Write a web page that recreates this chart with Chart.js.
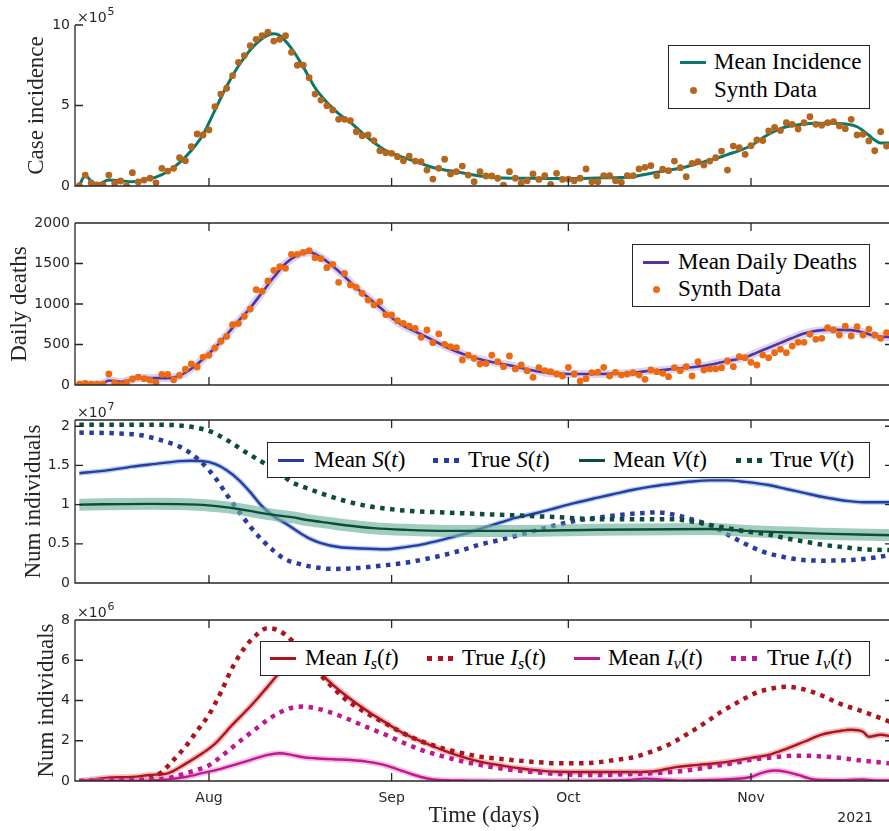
<!DOCTYPE html>
<html>
<head>
<meta charset="utf-8">
<script src="https://cdn.jsdelivr.net/npm/chart.js@4.4.1/dist/chart.umd.min.js"></script>
<style>
    body { margin: 0; background: #fff; }
    #wrap { position: relative; width: 889px; height: 831px; overflow: hidden; }
    #wrap canvas { position: absolute; left: 0; }
    .legend { position: absolute; background: #fff; border: 1px solid #262626; box-sizing: border-box; }
    .legend span.txt { position: absolute; font-family: "Liberation Serif", serif; font-size: 23px; line-height: 28px; color: #000; white-space: nowrap; }
    .legend div.sw { position: absolute; }
    sub { font-size: 16px; vertical-align: -4px; line-height: 0; }
</style>
</head>
<body>
<div id="wrap">
    <canvas id="chart1" width="900" height="200" style="top:0px"></canvas>
    <canvas id="chart2" width="900" height="200" style="top:200px"></canvas>
    <canvas id="chart3" width="900" height="200" style="top:400px"></canvas>
    <canvas id="chart4" width="900" height="231" style="top:600px"></canvas>
</div>
<script>
// days are counted from 1 Aug (Aug = 0, Sep = 31, Oct = 61, Nov = 92)
const monthTicks = [0, 31, 61, 92];
const monthLabels = ["Aug", "Sep", "Oct", "Nov"];
const X_MIN = -22.74;
const X_MAX = 116.1;

// one synthetic data point per day, from day -22 to day 115
const synthDays = Array.from({ length: 138 }, (_, i) => i - 22);

// panel 1: case incidence (x 1e5)
const incDays = [-22, -21, -20, -19, -17, -15, -13, -11, -9, -7, -5, -3, -1, 1, 3, 5, 7, 9, 11, 12, 14, 16, 18, 20,
    22, 24, 26, 28, 30, 32, 34, 36, 38, 40, 42, 44, 46, 48, 50, 54, 58, 62, 66, 70, 72, 74, 76, 78, 80, 82, 84,
    86, 88, 90, 92, 94, 96, 98, 100, 102, 104, 106, 108, 110, 112, 113, 114, 116];
const incMean = [0.05, 0.65, 0.3, 0.1, 0.37, 0.33, 0.27, 0.4, 0.55, 0.9, 1.45, 2.2, 3.2, 4.7, 6.2, 7.45, 8.45, 9.15, 9.45, 9.35, 8.55, 7.4, 6.1, 5.2,
    4.5, 3.95, 3.3, 2.7, 2.2, 1.9, 1.65, 1.4, 1.15, 1.0, 0.88, 0.75, 0.62, 0.55, 0.5, 0.48, 0.47, 0.47, 0.5, 0.53, 0.58, 0.72, 0.85, 0.98, 1.1, 1.3, 1.5,
    1.7, 1.95, 2.2, 2.5, 3.0, 3.4, 3.68, 3.8, 3.88, 3.9, 3.9, 3.85, 3.68, 3.15, 2.85, 2.67, 2.67];
const incSynth = [
    0.02, 0.68, 0.2, 0.07, 0.07, 0.68, 0.17, 0.31, 0.02, 0.83, 0.25, 0.37, 0.48, 0.2, 1.1, 0.93, 1.1, 1.76, 1.57, 2.44,
    3.23, 3.17, 3.48, 4.93, 5.71, 6.07, 6.85, 7.68, 8.1, 8.71, 9.11, 9.34, 9.55, 9.0, 9.11, 9.34, 8.3, 7.5,
    7.5, 6.73, 5.71, 5.34, 4.99, 4.72, 4.14, 4.14, 4.06, 3.37, 3.12, 3.17, 2.82, 2.19, 2.07, 2.03, 1.82, 1.57, 1.86, 1.55,
    1.51, 0.99, 0.43, 1.1, 1.66, 0.75, 0.89, 1.24, 0.68, 0.27, 0.89, 0.62, 0.62, 0.48, 0.06, 0.89, 0.48, 0.17, 0.33, 0.75,
    0.41, 0.64, 0.1, 0.79, 0.41, 0.43, 0.33, 0.48, 1.06, 0.27, 0.27, 0.64, 0.64,
    0.33, 0.23, 0.64, 0.64, 1.06, 1.16, 1.26, 0.64, 1.04, 0.95, 1.55, 1.14, 0.58, 1.41, 1.51, 1.3, 1.55, 1.76, 2.17, 0.99,
    2.48, 2.38, 1.97, 2.5, 2.86, 2.82, 3.42, 3.64, 3.44, 3.93, 3.83, 3.54, 3.93, 4.3, 3.83, 3.77, 3.93, 4.0, 3.73, 3.56,
    4.14, 3.17, 3.21, 2.8, 2.19, 3.37, 2.48];

// panel 2: daily deaths
const deathDays = [-22, -19, -18, -17, -16, -15, -13, -11, -9, -7, -5, -3, -1, 1, 3, 5, 7, 9, 11, 13, 15, 17, 19, 21,
    23, 25, 27, 29, 31, 33, 35, 37, 39, 41, 43, 45, 47, 49, 51, 53, 55, 57, 59, 61, 65, 69, 71, 73, 75, 77, 79,
    81, 83, 85, 87, 89, 91, 93, 95, 97, 99, 101, 103, 105, 107, 109, 111, 113, 116];
const deathMean = [5, 5, 20, 55, 50, 40, 70, 88, 85, 85, 115, 200, 320, 460, 620, 790, 950, 1140, 1330, 1500, 1600, 1640, 1575, 1470,
    1340, 1200, 1080, 960, 830, 730, 660, 590, 515, 445, 385, 335, 300, 270, 245, 210, 180, 155, 140, 135, 135, 140, 145, 160, 175, 185, 200,
    212, 228, 250, 280, 310, 340, 400, 460, 520, 580, 635, 668, 680, 680, 678, 650, 605, 590];
const deathSynth = [
    12, 20, 12, 12, 10, 136, 30, 5, 35, 74, 98, 78, 60, 28, 130, 130, 65, 120, 195, 260,
    222, 345, 366, 457, 540, 600, 745, 760, 847, 938, 1177, 1156, 1284, 1416,
    1460, 1440, 1613, 1613, 1638, 1658, 1572, 1560, 1449, 1490, 1268, 1379, 1235, 1206, 1132, 1049, 988, 1029, 868, 864,
    794, 761, 728, 700, 589, 679, 522, 630, 502, 473, 461, 309, 370, 329, 259, 264, 370, 288, 226, 358,
    198, 247, 177, 95, 214, 177, 165, 136, 111, 218, 136, 49, 78, 152, 160, 218, 111, 156, 123, 136,
    152, 123, 70, 185, 165, 144, 103, 214, 177, 226, 111, 288, 185, 198, 198, 214, 296, 226, 350, 337,
    280, 247, 370, 337, 399, 440, 399, 481, 527, 527, 626, 564, 576, 708, 679, 617, 728, 605, 720, 617,
    691, 617, 576, 646];

// panel 3: susceptible and vaccinated (x 1e7)
const trueSDays = [-22, -16, -12, -8, -5, -3, -1, 1, 3, 5, 7, 9, 11, 13, 15, 18, 21, 25, 29, 33, 37, 40, 43, 46, 50,
    53, 56, 59, 62, 66, 70, 73, 76, 79, 82, 85, 88, 91, 94, 97, 100, 104, 108, 111, 116];
const trueS = [1.92, 1.91, 1.89, 1.82, 1.74, 1.65, 1.52, 1.35, 1.13, 0.92, 0.72, 0.55, 0.41, 0.3, 0.25, 0.2, 0.18, 0.19, 0.22, 0.255, 0.31, 0.36, 0.42, 0.49, 0.56,
    0.62, 0.68, 0.74, 0.79, 0.835, 0.87, 0.89, 0.9, 0.87, 0.81, 0.74, 0.62, 0.5, 0.4, 0.34, 0.3, 0.285, 0.29, 0.305, 0.36];
const meanSDays = [-22, -17, -13, -9, -5, -3, -1, 1, 3, 5, 7, 9, 11, 13, 15, 17, 19, 22, 26, 30, 33, 36, 40, 43, 46,
    49, 52, 56, 59, 62, 66, 69, 72, 75, 78, 82, 85, 88, 91, 95, 98, 101, 104, 108, 111, 116];
const meanS = [1.4, 1.44, 1.485, 1.52, 1.555, 1.56, 1.555, 1.52, 1.44, 1.32, 1.16, 0.98, 0.85, 0.76, 0.66, 0.57, 0.51, 0.46, 0.44, 0.43, 0.455, 0.49, 0.56, 0.62, 0.69,
    0.76, 0.83, 0.9, 0.96, 1.02, 1.09, 1.14, 1.19, 1.23, 1.26, 1.295, 1.31, 1.31, 1.29, 1.25, 1.2, 1.15, 1.1, 1.05, 1.03, 1.03];
const trueVDays = [-22, -10, -5, -2, 0, 2, 4, 6, 8, 10, 12, 14, 17, 20, 23, 27, 30, 33, 40, 46, 53, 59, 66, 72, 78,
    82, 85, 88, 91, 95, 98, 101, 104, 108, 111, 116];
const trueV = [2.02, 2.02, 2.01, 1.98, 1.94, 1.87, 1.78, 1.68, 1.59, 1.5, 1.4, 1.29, 1.2, 1.12, 1.05, 0.98, 0.95, 0.925, 0.9, 0.88, 0.86, 0.84, 0.815, 0.815, 0.815,
    0.785, 0.74, 0.7, 0.66, 0.62, 0.57, 0.53, 0.49, 0.455, 0.43, 0.42];
const meanVDays = [-22, -10, -2, 2, 5, 8, 11, 14, 17, 20, 24, 28, 33, 40, 53, 66, 85, 91, 98, 104, 116];
const meanV = [1.0, 1.01, 1.0, 0.975, 0.945, 0.905, 0.87, 0.84, 0.8, 0.77, 0.73, 0.7, 0.68, 0.665, 0.665, 0.68, 0.69, 0.665, 0.645, 0.63, 0.61];

// panel 4: infected, unvaccinated (s) and vaccinated (v) (x 1e6)
const trueIsDays = [-22, -13, -10, -8, -6, -4, -2, 0, 2, 4, 6, 8, 10, 12, 14, 16, 18, 20, 23, 26, 30, 33, 36, 40, 43,
    46, 50, 53, 56, 59, 62, 66, 69, 72, 75, 78, 81, 84, 87, 90, 93, 96, 98, 101, 104, 107, 111, 116];
const trueIs = [0.0, 0.05, 0.13, 0.45, 1.05, 1.7, 2.5, 3.3, 4.4, 5.65, 6.6, 7.25, 7.6, 7.45, 7.0, 6.3, 5.55, 4.95, 4.1, 3.5, 2.85, 2.37, 1.98, 1.6, 1.38,
    1.21, 1.08, 1.0, 0.93, 0.88, 0.88, 0.93, 1.05, 1.18, 1.45, 1.8, 2.3, 2.85, 3.45, 3.95, 4.4, 4.62, 4.68, 4.55, 4.25, 3.85, 3.45, 2.9];
const meanIsDays = [-22, -19, -17, -13, -10, -7, -4, -1, 1, 4, 7, 10, 13, 15, 17, 20, 23, 27, 30, 33, 37, 40, 43, 46, 50,
    53, 56, 59, 65, 72, 76, 79, 83, 86, 89, 92, 95, 98, 101, 104, 107, 109, 111, 112, 114, 116];
const meanIs = [0.0, 0.1, 0.17, 0.2, 0.3, 0.38, 0.85, 1.4, 1.85, 2.8, 3.7, 4.7, 5.7, 6.05, 5.95, 5.05, 4.3, 3.45, 2.9, 2.37, 1.85, 1.5, 1.2, 0.96, 0.75,
    0.62, 0.52, 0.46, 0.45, 0.45, 0.5, 0.68, 0.8, 0.88, 1.0, 1.15, 1.3, 1.6, 1.95, 2.3, 2.48, 2.55, 2.45, 2.2, 2.3, 2.2];
const trueIvDays = [-22, -10, -6, -4, -2, 0, 2, 4, 6, 8, 10, 12, 14, 16, 18, 20, 23, 27, 30, 33, 36, 40, 43, 46, 50,
    53, 56, 59, 63, 67, 72, 76, 79, 83, 86, 89, 92, 95, 98, 101, 104, 107, 111, 116];
const trueIv = [0.0, 0.05, 0.2, 0.38, 0.55, 0.78, 1.2, 1.68, 2.15, 2.6, 3.05, 3.4, 3.63, 3.7, 3.62, 3.47, 3.15, 2.65, 2.3, 1.9, 1.55, 1.2, 0.98, 0.8, 0.6,
    0.5, 0.42, 0.35, 0.3, 0.3, 0.35, 0.4, 0.46, 0.6, 0.75, 0.88, 1.05, 1.15, 1.24, 1.26, 1.22, 1.15, 1.01, 0.86];
const meanIvDays = [-22, -10, -7, -4, -1, 2, 4, 7, 10, 12, 14, 16, 18, 21, 24, 27, 30, 32, 34, 36, 38, 41, 44, 50, 60,
    66, 71, 74, 77, 80, 85, 89, 92, 94, 96, 98, 100, 102, 104, 108, 111, 113, 116];
const meanIv = [0.0, 0.02, 0.08, 0.2, 0.4, 0.6, 0.78, 1.04, 1.3, 1.38, 1.3, 1.18, 1.13, 1.08, 1.04, 0.95, 0.78, 0.58, 0.38, 0.2, 0.08, 0.03, 0.02, 0.0, 0.0,
    0.02, 0.05, 0.12, 0.07, 0.02, 0.05, 0.1, 0.2, 0.42, 0.52, 0.45, 0.3, 0.12, 0.05, 0.04, 0.08, 0.03, 0.02];

// y ticks
const yTicks1 = [0, 5, 10];
const yTicks2 = [0, 500, 1000, 1500, 2000];
const yTicks3 = [0, 0.5, 1, 1.5, 2];
const yTicks4 = [0, 2, 4, 6, 8];

const AXIS_COLOR = "#262626";
const TICK_FONT = { family: "DejaVu Sans", size: 14 };
const LABEL_FONT = { family: "Liberation Serif", size: 23 };

const colors = {
    inc: "#0a786a", incDots: "#b4661f",
    death: "#5631a2", deathDots: "#ee6a12", deathBand: "rgba(150, 135, 215, 0.35)",
    S: "#283ca2", SBand: "rgba(120, 170, 225, 0.55)",
    V: "#0c4d3a", VBand: "rgba(110, 178, 160, 0.65)",
    Is: "#ae141d", IsBand: "rgba(225, 110, 110, 0.45)",
    Iv: "#be1a8e", IvBand: "rgba(225, 120, 195, 0.45)"
};

function pts(days, vals) {
    return days.map((d, i) => ({ x: d, y: vals[i] }));
}

function line(data, color, width, order, dotted) {
    return {
        data: data,
        showLine: true,
        borderColor: color,
        borderWidth: width,
        pointRadius: 0,
        cubicInterpolationMode: "monotone",
        borderDash: dotted ? [4.5, 5.5] : [],
        borderCapStyle: "butt",
        order: order
    };
}

function dots(data, color, order) {
    return {
        data: data,
        showLine: false,
        pointRadius: 3.4,
        pointBackgroundColor: color,
        pointBorderWidth: 0,
        order: order
    };
}

// draws the MATLAB style box, inward ticks, the x10^n factor and the year label
const matlabAxes = {
    id: "matlabAxes",
    afterDatasetsDraw(chart, args, opts) {
        const { ctx, chartArea: a, scales: { x, y } } = chart;
        ctx.save();
        ctx.strokeStyle = AXIS_COLOR;
        ctx.lineWidth = 1.3;
        ctx.beginPath();
        ctx.moveTo(a.left, a.top);
        ctx.lineTo(a.left, a.bottom);
        ctx.lineTo(a.right, a.bottom);
        if (opts.box) {
            ctx.lineTo(a.right, a.top);
            ctx.lineTo(a.left, a.top);
        }
        x.ticks.forEach(t => {
            const px = x.getPixelForValue(t.value);
            ctx.moveTo(px, a.bottom);
            ctx.lineTo(px, a.bottom - 8);
            if (opts.box) {
                ctx.moveTo(px, a.top);
                ctx.lineTo(px, a.top + 8);
            }
        });
        y.ticks.forEach(t => {
            const py = y.getPixelForValue(t.value);
            ctx.moveTo(a.left, py);
            ctx.lineTo(a.left + 8, py);
            if (opts.box) {
                ctx.moveTo(a.right, py);
                ctx.lineTo(a.right - 8, py);
            }
        });
        ctx.stroke();
        ctx.fillStyle = AXIS_COLOR;
        if (opts.exponent) {
            ctx.font = "14px 'DejaVu Sans'";
            ctx.textBaseline = "alphabetic";
            ctx.fillText("\u00d710", a.left + 2, a.top - 3);
            const w = ctx.measureText("\u00d710").width;
            ctx.font = "11px 'DejaVu Sans'";
            ctx.fillText(opts.exponent, a.left + 3 + w, a.top - 10);
        }
        if (opts.year) {
            ctx.font = "14px 'DejaVu Sans'";
            ctx.textAlign = "right";
            ctx.textBaseline = "alphabetic";
            ctx.fillText(opts.year, 873, a.bottom + 41);
        }
        ctx.restore();
    }
};
Chart.register(matlabAxes);

function panelOptions(p) {
    return {
        responsive: false,
        animation: false,
        layout: { padding: { top: p.padTop, right: 7, left: 0, bottom: 0 } },
        plugins: {
            legend: { display: false },
            tooltip: { enabled: false },
            matlabAxes: { box: p.box, exponent: p.exponent, year: p.year }
        },
        scales: {
            x: {
                type: "linear",
                min: X_MIN,
                max: X_MAX,
                afterBuildTicks: s => { s.ticks = monthTicks.map(v => ({ value: v })); },
                afterFit: s => { s.height = p.xHeight; },
                grid: { display: false, drawTicks: false },
                border: { display: false },
                ticks: {
                    display: !!p.xLabels,
                    padding: 9,
                    autoSkip: false,
                    maxRotation: 0,
                    color: AXIS_COLOR,
                    font: TICK_FONT,
                    callback: (v, i) => monthLabels[i]
                },
                title: {
                    display: !!p.xTitle,
                    text: p.xTitle,
                    color: AXIS_COLOR,
                    font: LABEL_FONT,
                    padding: { top: 0, bottom: 1 }
                }
            },
            y: {
                min: 0,
                max: p.yMax,
                afterBuildTicks: s => { s.ticks = p.yTicks.map(v => ({ value: v })); },
                afterFit: s => { s.width = 75; },
                grid: { display: false, drawTicks: false },
                border: { display: false },
                ticks: {
                    padding: 5,
                    color: AXIS_COLOR,
                    font: TICK_FONT,
                    callback: (v, i) => String(p.yTicks[i])
                },
                title: {
                    display: true,
                    text: p.yTitle,
                    color: AXIS_COLOR,
                    font: LABEL_FONT,
                    padding: { top: p.titlePad, bottom: 0 }
                }
            }
        }
    };
}

function createChart1() {
    const chartConfig = {
        type: "scatter",
        data: {
            datasets: [
                line(pts(incDays, incMean), colors.inc, 3, 2, false),
                dots(pts(synthDays, incSynth), colors.incDots, 1)
            ]
        },
        options: panelOptions({ padTop: 25, xHeight: 14, yMax: 10, yTicks: yTicks1, yTitle: "Case incidence", titlePad: 23, box: false, exponent: "5" })
    };
    new Chart(document.getElementById("chart1"), chartConfig);
}

function createChart2() {
    const chartConfig = {
        type: "scatter",
        data: {
            datasets: [
                line(pts(deathDays, deathMean), colors.deathBand, 8, 3, false),
                line(pts(deathDays, deathMean), colors.death, 2.6, 2, false),
                dots(pts(synthDays, deathSynth), colors.deathDots, 1)
            ]
        },
        options: panelOptions({ padTop: 23, xHeight: 15, yMax: 2000, yTicks: yTicks2, yTitle: "Daily deaths", titlePad: 6, box: true })
    };
    new Chart(document.getElementById("chart2"), chartConfig);
}

function createChart3() {
    const chartConfig = {
        type: "scatter",
        data: {
            datasets: [
                line(pts(meanSDays, meanS), colors.SBand, 5, 7, false),
                line(pts(meanSDays, meanS), colors.S, 2.4, 6, false),
                line(pts(trueSDays, trueS), colors.S, 4.5, 5, true),
                line(pts(meanVDays, meanV), colors.VBand, 12, 4, false),
                line(pts(meanVDays, meanV), colors.V, 2.4, 3, false),
                line(pts(trueVDays, trueV), colors.V, 4.5, 2, true)
            ]
        },
        options: panelOptions({ padTop: 20, xHeight: 17, yMax: 2.08, yTicks: yTicks3, yTitle: "Num individuals", titlePad: 20.5, box: true, exponent: "7" })
    };
    new Chart(document.getElementById("chart3"), chartConfig);
}

function createChart4() {
    const chartConfig = {
        type: "scatter",
        data: {
            datasets: [
                line(pts(meanIsDays, meanIs), colors.IsBand, 6, 7, false),
                line(pts(meanIsDays, meanIs), colors.Is, 2.4, 6, false),
                line(pts(trueIsDays, trueIs), colors.Is, 4.5, 5, true),
                line(pts(meanIvDays, meanIv), colors.IvBand, 6, 4, false),
                line(pts(meanIvDays, meanIv), colors.Iv, 2.4, 3, false),
                line(pts(trueIvDays, trueIv), colors.Iv, 4.5, 2, true)
            ]
        },
        options: panelOptions({ padTop: 20, xHeight: 50, yMax: 8, yTicks: yTicks4, yTitle: "Num individuals", titlePad: 33, box: true, exponent: "6", xLabels: true, xTitle: "Time (days)", year: "2021" })
    };
    new Chart(document.getElementById("chart4"), chartConfig);
}

// legends, built as html boxes laid over the plots
const legends = [
    { left: 668, top: 45, width: 202, height: 64, items: [
        { kind: "line", color: colors.inc, sx: 680, tx: 714, y: 62, html: "Mean Incidence" },
        { kind: "marker", color: colors.incDots, sx: 680, tx: 714, y: 90, html: "Synth Data" }
    ] },
    { left: 632, top: 244, width: 238, height: 63, items: [
        { kind: "line", color: colors.death, sx: 643, tx: 678, y: 262, html: "Mean Daily Deaths" },
        { kind: "marker", color: colors.deathDots, sx: 643, tx: 678, y: 289, html: "Synth Data" }
    ] },
    { left: 267, top: 442, width: 603, height: 36, items: [
        { kind: "line", color: colors.S, sx: 278, tx: 314, y: 460, html: "Mean <i>S</i>(<i>t</i>)" },
        { kind: "dotted", color: colors.S, sx: 433, tx: 468, y: 460, html: "True <i>S</i>(<i>t</i>)" },
        { kind: "line", color: colors.V, sx: 579, tx: 613, y: 460, html: "Mean <i>V</i>(<i>t</i>)" },
        { kind: "dotted", color: colors.V, sx: 736, tx: 770, y: 460, html: "True <i>V</i>(<i>t</i>)" }
    ] },
    { left: 260, top: 641, width: 610, height: 35, items: [
        { kind: "line", color: colors.Is, sx: 270, tx: 305, y: 658, html: "Mean <i>I</i><sub><i>s</i></sub>(<i>t</i>)" },
        { kind: "dotted", color: colors.Is, sx: 427, tx: 462, y: 658, html: "True <i>I</i><sub><i>s</i></sub>(<i>t</i>)" },
        { kind: "line", color: colors.Iv, sx: 574, tx: 608, y: 658, html: "Mean <i>I</i><sub><i>v</i></sub>(<i>t</i>)" },
        { kind: "dotted", color: colors.Iv, sx: 731, tx: 767, y: 658, html: "True <i>I</i><sub><i>v</i></sub>(<i>t</i>)" }
    ] }
];

function buildLegends() {
    const wrap = document.getElementById("wrap");
    legends.forEach(lg => {
        const box = document.createElement("div");
        box.className = "legend";
        box.style.left = lg.left + "px";
        box.style.top = lg.top + "px";
        box.style.width = lg.width + "px";
        box.style.height = lg.height + "px";
        lg.items.forEach(it => {
            const sw = document.createElement("div");
            sw.className = "sw";
            let w = 26, h = 3;
            if (it.kind === "dotted") {
                h = 5;
                sw.style.background = "repeating-linear-gradient(90deg, " + it.color + " 0 5px, transparent 5px 10.5px)";
            } else if (it.kind === "marker") {
                w = 7; h = 7;
                sw.style.background = it.color;
                sw.style.borderRadius = "50%";
            } else {
                sw.style.background = it.color;
            }
            const sx = it.kind === "marker" ? it.sx + 13 - w / 2 : it.sx;
            sw.style.left = (sx - lg.left - 1) + "px";
            sw.style.top = (it.y - lg.top - 1 - h / 2) + "px";
            sw.style.width = w + "px";
            sw.style.height = h + "px";
            box.appendChild(sw);
            const tx = document.createElement("span");
            tx.className = "txt";
            tx.innerHTML = it.html;
            tx.style.left = (it.tx - lg.left - 1) + "px";
            tx.style.top = (it.y - lg.top - 1 - 14) + "px";
            box.appendChild(tx);
        });
        wrap.appendChild(box);
    });
}

createChart1();
createChart2();
createChart3();
createChart4();
buildLegends();
</script>
</body>
</html>
